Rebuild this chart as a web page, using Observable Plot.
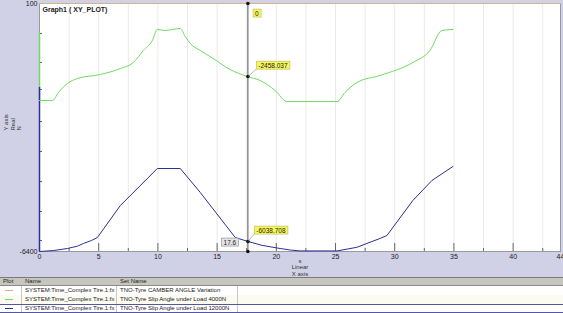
<!DOCTYPE html>
<html><head><meta charset="utf-8">
<script src="https://cdn.jsdelivr.net/npm/d3@7"></script>
<script src="https://cdn.jsdelivr.net/npm/@observablehq/plot@0.6"></script>
<style>
html,body{margin:0;padding:0;background:#d0d1e6;}
#wrap{width:563px;height:313px;overflow:hidden;font-family:"Liberation Sans",Arial,sans-serif;}
svg{display:block}
.tbl{width:563px;height:36px;background:#fff;font-size:6px;color:#222;overflow:hidden;}
.row{display:flex;height:9px;box-sizing:border-box;line-height:8px;white-space:nowrap;}
.row>div{box-sizing:border-box;padding:0 3px;overflow:hidden;border-left:1px solid #c8c8c8;height:100%;}
.row>div:first-child{border-left:none;}
.hd{background:#c6c6be;border-top:1px solid #7a7a7a;border-bottom:1px solid #8a8a8a;line-height:7px;}
.alt{background:#fbfbf1;}
.sel{border-top:1px solid #5555a0;border-bottom:1px solid #5555a0;line-height:7px;}
.swatch{display:inline-block;width:8px;height:1px;vertical-align:middle;margin-left:2px;}
</style>
</head><body><div id="wrap"></div>
<script>
// ---- data ----
const xTicks = [0,5,10,15,20,25,30,35,40,44];
const xMinor = [2.5,7.5,12.5,17.5,22.5,27.5,32.5,37.5,42.5];
const gridX = [2.5,5,7.5,10,12.5,15,17.5,20,22.5,25,27.5,30,32.5,35,37.5,40,42.5];
const yTicks = [100,-6400];
const yMinor = [-686,-1446,-2154,-2993,-3779,-4565,-5352,-6112];

const camberX = [0,44];
const camberY = [100,100];

const greenX = [0,1.10,1.60,2.36,3.20,5.14,6.83,7.93,8.77,9.53,9.95,10.62,11.21,11.89,12.31,12.73,13.58,14.67,16.10,17.54,18.63,19.90,20.91,25.13,25.80,26.81,28.75,31.53,32.97,33.98,34.91];
const greenY = [-2442,-2442,-2233,-1997,-1866,-1761,-1604,-1446,-1132,-870,-581,-608,-581,-555,-765,-948,-1132,-1342,-1630,-1813,-1918,-2180,-2469,-2469,-2233,-1971,-1787,-1446,-1132,-608,-581];

const blueX = [0,1.2,2.36,3.2,3.71,4.4,4.89,6.83,9.95,11.89,13.58,16.53,17.62,18.8,20.32,21.2,22.01,25.13,26.8,28.75,29.34,31.53,33.14,34.91];
const blueY = [-6400,-6375,-6321,-6260,-6190,-6110,-6033,-5194,-4225,-4225,-4854,-6033,-6138,-6240,-6321,-6362,-6385,-6385,-6290,-6059,-5981,-5063,-4539,-4172];

const greenAxisSpan = [-660,-2442];
const blueAxisSpan = [-2100,-6400];

const cursorX = 17.6;
const cursorY = [100,-1815,-6138,-6400];
const cursorLabels = ["0","-2458.037","-6038.708"];
const cursorXLabel = "17.6";

const seriesColors = ["#d6b48a","#6cdb60","#2e2e96"];
const seriesNames = ["SYSTEM:Time_Complex Tire.1:fx","SYSTEM:Time_Complex Tire.1:fx","SYSTEM:Time_Complex Tire.1:fx"];
const setNames = ["TNO-Tyre CAMBER ANGLE Variation","TNO-Tyre Slip Angle under Load 4000N","TNO-Tyre Slip Angle under Load 12000N"];

// ---- chart ----
const W = 563, H = 277, mL = 39, mR = 3, mT = 3, mB = 26;
const plotW = W - mL - mR, plotH = H - mT - mB;
const green = greenX.map((x,i)=>({x, y: greenY[i]}));
const blue = blueX.map((x,i)=>({x, y: blueY[i]}));
const camber = camberX.map((x,i)=>({x, y: camberY[i]}));
const cur = cursorY.map(y=>({x: cursorX, y}));
const lblYellow = [
  {x: cursorX, y: cursorY[0], t: cursorLabels[0], dx: 9, dy: 10},
  {x: cursorX, y: cursorY[1], t: cursorLabels[1], dx: 25, dy: -11},
  {x: cursorX, y: cursorY[2], t: cursorLabels[2], dx: 23, dy: -11}
];

const chart = Plot.plot({
  width: W, height: H,
  marginLeft: mL, marginRight: mR, marginTop: mT, marginBottom: mB,
  style: {background: "#d0d1e6", fontFamily: "'Liberation Sans', Arial, sans-serif", fontSize: "7px", color: "#222"},
  x: {domain: [0,44]},
  y: {domain: [-6400,100]},
  marks: [
    Plot.frame({fill: "white", stroke: "#9a9a9a"}),
    Plot.ruleX(gridX, {stroke: "#efe9e2"}),
    Plot.ruleX(xTicks.slice(0,9), {stroke: "#666", insetTop: plotH - 8}),
    Plot.ruleX(xMinor, {stroke: "#666", insetTop: plotH - 3}),
    Plot.ruleY(yMinor, {stroke: "#666", insetRight: plotW - 3}),
    Plot.ruleX([0], {y1: greenAxisSpan[0], y2: greenAxisSpan[1], stroke: seriesColors[1], strokeWidth: 1.5}),
    Plot.ruleX([0], {y1: blueAxisSpan[0], y2: blueAxisSpan[1], stroke: seriesColors[2], strokeWidth: 1.5}),
    Plot.axisX({ticks: xTicks, tickSize: 0, tickPadding: 3, label: null, fontSize: 7, tickFormat: d => String(d)}),
    Plot.axisY({ticks: yTicks, tickSize: 0, tickPadding: 2, label: null, fontSize: 7, tickFormat: d => String(d)}),
    Plot.line(camber, {x: "x", y: "y", stroke: seriesColors[0], strokeWidth: 1.2}),
    Plot.line(green, {x: "x", y: "y", stroke: seriesColors[1], strokeWidth: 1, curve: "monotone-x"}),
    Plot.line(blue, {x: "x", y: "y", stroke: seriesColors[2], strokeWidth: 1}),
    Plot.ruleX([cursorX], {stroke: "#555", strokeWidth: 1}),
    Plot.dot(cur, {x: "x", y: "y", r: 1.8, fill: "#111", className: "cursordots"}),
    Plot.text(["Graph1 ( XY_PLOT)"], {frameAnchor: "top-left", dx: 3, dy: 4, fontSize: 7, fill: "#222", fontWeight: "bold", lineAnchor: "top"}),
    Plot.text(["s\nLinear\nX axis"], {frameAnchor: "bottom", dy: 7, lineAnchor: "top", fontSize: 6, lineHeight: 1.05, fill: "#333"}),
    Plot.text(["Y axis\nReal\nN"], {frameAnchor: "left", dx: -27, dy: 3, rotate: -90, fontSize: 6, lineHeight: 1.05, fill: "#333"}),
    ...lblYellow.map(d => Plot.text([d], {x: "x", y: "y", text: "t", dx: d.dx, dy: d.dy, fontSize: 6.5, fill: "#222", className: "lbl-yellow"})),
    Plot.text([{x: cursorX, y: cursorY[3], t: cursorXLabel}], {x: "x", y: "y", text: "t", dx: -18, dy: -9, fontSize: 6.5, fill: "#222", className: "lbl-gray"})
  ]
});

const wrap = document.getElementById("wrap");
wrap.appendChild(chart);

// boxes behind cursor labels
function boxify(cls, fill, stroke) {
  chart.querySelectorAll("." + cls + " text").forEach(t => {
    const bb = t.getBBox();
    const r = document.createElementNS("http://www.w3.org/2000/svg", "rect");
    r.setAttribute("x", bb.x - 2); r.setAttribute("y", bb.y - 0.5);
    r.setAttribute("width", bb.width + 4); r.setAttribute("height", bb.height + 1);
    r.setAttribute("fill", fill); r.setAttribute("stroke", stroke); r.setAttribute("stroke-width", 0.6);
    if (t.getAttribute("transform")) r.setAttribute("transform", t.getAttribute("transform"));
    t.parentNode.insertBefore(r, t);
  });
}
boxify("lbl-yellow", "#f6f55a", "#b8b85a");
boxify("lbl-gray", "#e4e4e4", "#888");

// leader lines from dots to yellow boxes
const sv = chart.getBoundingClientRect();
const dots = chart.querySelectorAll(".cursordots circle");
const ygroups = chart.querySelectorAll(".lbl-yellow");
ygroups.forEach((g, i) => {
  if (i === 0) return;
  const rb = g.querySelector("rect").getBoundingClientRect();
  const db = dots[i].getBoundingClientRect();
  const l = document.createElementNS("http://www.w3.org/2000/svg", "line");
  l.setAttribute("x1", db.x + db.width/2 - sv.x); l.setAttribute("y1", db.y + db.height/2 - sv.y);
  l.setAttribute("x2", rb.x - sv.x); l.setAttribute("y2", rb.y + rb.height - sv.y);
  l.setAttribute("stroke", "#888"); l.setAttribute("stroke-width", 0.6);
  chart.insertBefore(l, ygroups[0]);
});

// ---- table ----
const widths = [21, 95, 121, 326];
const tbl = document.createElement("div");
tbl.className = "tbl";
const mkRow = (cells, cls) => `<div class="row ${cls}">` + cells.map((c,j)=>`<div style="width:${widths[j]}px">${c}</div>`).join("") + `</div>`;
tbl.innerHTML = mkRow(["Plot","Name","Set Name",""], "hd") +
  seriesNames.map((n,i) => mkRow([`<span class="swatch" style="background:${seriesColors[i]}"></span>`, n, setNames[i], ""], i===1 ? "alt" : (i===2 ? "sel" : ""))).join("");
wrap.appendChild(tbl);
</script>
</body></html>
